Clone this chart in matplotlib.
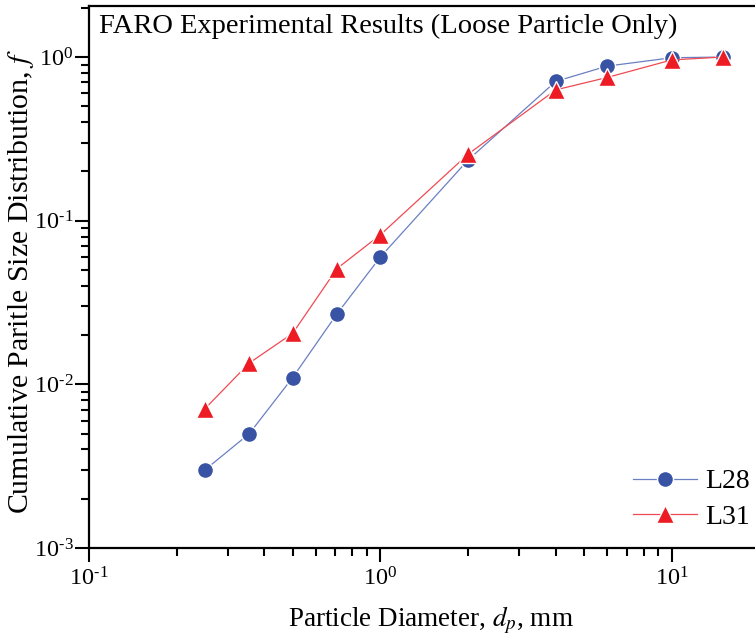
import matplotlib.pyplot as plt
from matplotlib.ticker import FuncFormatter
import numpy as np

plt.rcParams['font.family'] = ['Liberation Serif', 'DejaVu Serif']
plt.rcParams['mathtext.fontset'] = 'stix'

diameter = [0.25, 0.355, 0.5, 0.71, 1.0, 2.0, 4.0, 6.0, 10.0, 15.0]
l28 = [0.0030, 0.0050, 0.011, 0.027, 0.060, 0.235, 0.71, 0.88, 0.99, 1.0]
l31 = [0.0071, 0.0135, 0.0205, 0.051, 0.082, 0.255, 0.63, 0.75, 0.96, 1.0]

blue = '#3853a4'
red = '#ed1c24'


def pow10(v, pos):
    e = int(round(np.log10(v)))
    s = str(abs(e))
    if e < 0:
        s = r'\text{-}' + s
    return r'$\mathregular{10^{' + s + '}}$'


fig = plt.figure(figsize=(7.55, 6.37), dpi=100)
ax = fig.add_axes([89/755, 89/637, 666/755, 542/637])

ax.plot(diameter, l28, color='#6b80c2', lw=0.9, marker='o', ms=11.5,
        mfc=blue, mec='white', mew=1.0, label='L28')
ax.plot(diameter, l31, color='#f04a52', lw=0.9, marker='^', ms=12.5,
        mfc=red, mec='white', mew=1.0, label='L31')

ax.set_xscale('log')
ax.set_yscale('log')
ax.set_xlim(0.1, 19.3)
ax.set_ylim(1e-3, 2.05)
ax.xaxis.set_major_formatter(FuncFormatter(pow10))
ax.yaxis.set_major_formatter(FuncFormatter(pow10))

ax.spines['right'].set_visible(False)
for s in ['left', 'bottom', 'top']:
    ax.spines[s].set_linewidth(1.6)

ax.tick_params(which='major', direction='out', length=10, width=1.5, labelsize=17.5)
ax.tick_params(which='minor', direction='out', length=6, width=1.5)
ax.tick_params(axis='x', which='major', pad=4)
ax.tick_params(axis='y', which='major', pad=1)
ax.tick_params(top=False, right=False, which='both')

ax.set_xlabel('Particle Diameter, $d_{p}$, mm', fontsize=19.5)
ax.xaxis.set_label_coords(0.5135, -0.105)
ax.set_ylabel('Cumulative Paritle Size Distribution, $f$', fontsize=21.5)
ax.yaxis.set_label_coords(-0.08, 0.4926)

ax.text(0.015, 0.985, 'FARO Experimental Results (Loose Particle Only)',
        transform=ax.transAxes, fontsize=20.5, va='top', ha='left')

ax.legend(loc='lower right', frameon=False, fontsize=20, numpoints=1,
          handlelength=2.3, handletextpad=0.3, labelspacing=0.37,
          bbox_to_anchor=(1.03, -0.013))

fig.savefig('out.png', dpi=100)
